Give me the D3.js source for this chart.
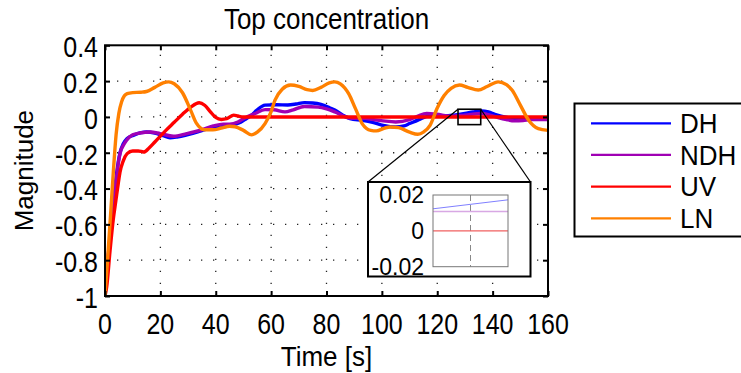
<!DOCTYPE html>
<html><head><meta charset="utf-8">
<script src="https://cdn.jsdelivr.net/npm/d3@7"></script>
<style>
body{margin:0;background:#fff;}
svg{display:block;font-family:"Liberation Sans",Arial,Helvetica,sans-serif;}
</style>
</head><body>
<svg id="chart" width="741" height="373"></svg>
<script>
// ---------------- data ----------------
const seriesNames  = ["DH", "NDH", "UV", "LN"];
const seriesColors = ["#0000ff", "#a000b4", "#ff0000", "#ff8000"];

const dhData = [[0,-1],[0.7,-0.85],[1.5,-0.72],[2.3,-0.58],[3.2,-0.46],[4,-0.34],[4.8,-0.25],[5.5,-0.195],[6.6,-0.15],[8,-0.12],
  [10.2,-0.103],[13,-0.088],[15,-0.084],[18,-0.09],[21,-0.105],[23.5,-0.116],[26,-0.112],[29,-0.103],[32,-0.09],[35,-0.076],
  [38,-0.063],[41,-0.055],[44,-0.052],[47,-0.042],[49,-0.03],[51,-0.01],[53,0.01],[55,0.04],[57.8,0.066],[62,0.068],
  [66,0.067],[69,0.072],[72,0.08],[75,0.078],[78,0.07],[81,0.052],[83,0.038],[86.7,0.003],[88.5,-0.009],[93,-0.019],
  [97,-0.032],[100.5,-0.047],[105,-0.056],[108,-0.05],[110,-0.037],[113,-0.018],[115,-0.004],[118.6,0.01],[122.8,0.006],[126,0.01],
  [130,0.019],[133,0.028],[136,0.034],[138.5,0.028],[140.8,0.015],[145.6,-0.004],[150.5,-0.015],[155,-0.01],[160,-0.01]];

const ndhData = [[0,-1],[0.7,-0.86],[1.5,-0.73],[2.3,-0.6],[3.2,-0.48],[4,-0.36],[4.8,-0.26],[5.5,-0.2],[6.6,-0.16],[7.8,-0.13],
  [10,-0.1],[12.6,-0.09],[16.3,-0.084],[19.9,-0.093],[24.7,-0.108],[29.5,-0.093],[34.3,-0.075],[39.1,-0.05],[42.7,-0.04],[45,-0.04],
  [48,-0.028],[50,-0.01],[54.2,0.019],[57.8,0.041],[61,0.04],[65,0.028],[68,0.04],[72,0.058],[77,0.055],[80,0.045],
  [83,0.028],[87.5,-0.003],[91,-0.008],[94,-0.008],[97,-0.015],[100.5,-0.022],[105,-0.028],[110,-0.015],[113,0.005],[116.2,0.019],
  [119.8,0.015],[124.6,0.004],[130,0.01],[136,0.019],[139,0.01],[142,-0.004],[145,-0.015],[148,-0.022],[151,-0.02],[154,-0.015],[160,-0.015]];

const uvData = [[0,-1],[0.6,-0.95],[1.8,-0.75],[3,-0.57],[3.9,-0.47],[4.8,-0.37],[5.4,-0.31],[6.6,-0.245],[8,-0.205],[10,-0.19],
  [12,-0.19],[14,-0.196],[16,-0.172],[18,-0.14],[22,-0.075],[25,-0.03],[28,0.015],[31,0.055],[34,0.079],[36,0.065],
  [38,0.03],[40,-0.003],[42,-0.014],[44,-0.01],[46.5,0.01],[48,0.005],[50,0],[160,0]];

const lnData = [[0,-1],[1,-0.78],[2,-0.55],[3,-0.31],[4,-0.1],[5,0.02],[6,0.085],[7,0.118],[8,0.13],[10,0.136],
  [13,0.138],[15,0.142],[18,0.165],[21,0.19],[23,0.196],[25,0.185],[28,0.135],[31,0.035],[33,-0.035],[36,-0.072],
  [39,-0.072],[42,-0.062],[45,-0.052],[47,-0.055],[50,-0.075],[53,-0.1],[55,-0.085],[57.8,-0.037],[60,0.03],[61.4,0.094],
  [64,0.155],[67,0.178],[70,0.17],[73,0.152],[75,0.148],[78,0.165],[81,0.19],[83,0.196],[85,0.185],[88,0.13],
  [90.5,0.045],[93,-0.04],[96,-0.075],[98,-0.078],[101,-0.062],[103,-0.056],[106,-0.06],[110,-0.085],[113,-0.097],[115,-0.085],
  [117.4,-0.047],[120,0.05],[122.5,0.12],[125,0.16],[128,0.178],[131,0.165],[134.8,0.15],[138,0.17],[142,0.196],[145,0.18],
  [147,0.15],[150,0.066],[153,-0.018],[156.5,-0.065],[160,-0.075]];

const xTicks = [0, 20, 40, 60, 80, 100, 120, 140, 160];
const xTickLabels = ["0","20","40","60","80","100","120","140","160"];
const yTicks = [-1, -0.8, -0.6, -0.4, -0.2, 0, 0.2, 0.4];
const yTickLabels = ["-1","-0.8","-0.6","-0.4","-0.2","0","0.2","0.4"];

// inset (zoom) data
const zoomXRange = [127.5, 135.7];
const zoomYRange = [-0.043, 0.043];
const insetYTicks = [-0.02, 0, 0.02];
const insetYTickLabels = ["-0.02", "0", "0.02"];
const insetDH  = [[127.5, 0.0123], [135.7, 0.0173]];
const insetNDH = [[127.5, 0.0108], [135.7, 0.0108]];
const insetUV  = [[127.5, 0], [135.7, 0]];

const titleText = "Top concentration";
const xLabel = "Time [s]";
const yLabel = "Magnitude";

// ---------------- layout ----------------
const svg = d3.select("#chart");
const L = 105, R = 548, T = 45.3, B = 296;
const x = d3.scaleLinear().domain([0, 160]).range([L, R]);
const y = d3.scaleLinear().domain([-1, 0.4]).range([B, T]);

function stext(g, px, py, str, size, sy, anchor, dy) {
  return g.append("text")
    .attr("transform", `translate(${px},${py}) scale(1,${sy})`)
    .attr("text-anchor", anchor)
    .attr("dy", dy)
    .attr("font-size", size)
    .attr("fill", "#000")
    .text(str);
}

// grid
const grid = svg.append("g");
grid.selectAll("line.gx").data(xTicks.slice(1, -1)).enter().append("line")
  .attr("x1", d => x(d)).attr("x2", d => x(d)).attr("y1", B).attr("y2", T)
  .attr("stroke", "#222").attr("stroke-width", 1.3).attr("stroke-dasharray", "1.3,10.7");
grid.selectAll("line.gy").data(yTicks.slice(1, -1)).enter().append("line")
  .attr("y1", d => y(d)).attr("y2", d => y(d)).attr("x1", L).attr("x2", R)
  .attr("stroke", "#222").attr("stroke-width", 1.3).attr("stroke-dasharray", "1.3,10.7");

// curves
svg.append("defs").append("clipPath").attr("id", "clip")
  .append("rect").attr("x", L).attr("y", T).attr("width", R - L).attr("height", B - T);
const line = d3.line().x(d => x(d[0])).y(d => y(d[1])).curve(d3.curveMonotoneX);
const allData = [dhData, ndhData, uvData, lnData];
const curves = svg.append("g").attr("clip-path", "url(#clip)");
allData.forEach((data, i) => {
  curves.append("path").attr("d", line(data)).attr("fill", "none")
    .attr("stroke", seriesColors[i]).attr("stroke-width", 3.4)
    .attr("stroke-linejoin", "round").attr("stroke-linecap", "round");
});

// axes ticks (inward)
const tick = 5;
svg.append("g").attr("transform", `translate(0,${B})`)
  .call(d3.axisBottom(x).tickValues(xTicks).tickSize(-tick).tickFormat(""))
  .call(g => g.select(".domain").remove());
svg.append("g").attr("transform", `translate(0,${T})`)
  .call(d3.axisTop(x).tickValues(xTicks).tickSize(-tick).tickFormat(""))
  .call(g => g.select(".domain").remove());
svg.append("g").attr("transform", `translate(${L},0)`)
  .call(d3.axisLeft(y).tickValues(yTicks).tickSize(-tick).tickFormat(""))
  .call(g => g.select(".domain").remove());
svg.append("g").attr("transform", `translate(${R},0)`)
  .call(d3.axisRight(y).tickValues(yTicks).tickSize(-tick).tickFormat(""))
  .call(g => g.select(".domain").remove());
svg.selectAll(".tick line").attr("stroke", "#000").attr("stroke-width", 2);

// box
svg.append("rect").attr("x", L).attr("y", T).attr("width", R - L).attr("height", B - T)
  .attr("fill", "none").attr("stroke", "#000").attr("stroke-width", 2);

// tick labels
const labels = svg.append("g");
xTicks.forEach((v, i) => stext(labels, x(v), 334, xTickLabels[i], 25, 1.2, "middle", 0));
yTicks.forEach((v, i) => stext(labels, 98, y(v) + 1, yTickLabels[i], 25, 1.2, "end", "0.36em"));

// title & axis labels
stext(svg, (L + R) / 2, 29, titleText, 26, 1.1, "middle", 0);
stext(svg, (L + R) / 2, 366, xLabel, 26, 1.04, "middle", 0);
svg.append("text").attr("transform", `translate(33,${(T + B) / 2}) rotate(-90)`)
  .attr("text-anchor", "middle").attr("font-size", 26).text(yLabel);

// zoom rectangle and connectors
const zx0 = x(zoomXRange[0]), zx1 = x(zoomXRange[1]);
const zy0 = y(zoomYRange[1]), zy1 = y(zoomYRange[0]);
const IB = {x0: 368, y0: 182, x1: 530.5, y1: 276.5};
svg.append("rect").attr("x", zx0).attr("y", zy0).attr("width", zx1 - zx0).attr("height", zy1 - zy0)
  .attr("fill", "none").attr("stroke", "#000").attr("stroke-width", 1.6);
svg.append("line").attr("x1", zx0).attr("y1", zy0).attr("x2", IB.x0).attr("y2", IB.y0)
  .attr("stroke", "#000").attr("stroke-width", 1.2);
svg.append("line").attr("x1", zx1).attr("y1", zy0).attr("x2", IB.x1).attr("y2", IB.y0)
  .attr("stroke", "#000").attr("stroke-width", 1.2);

// inset
const inset = svg.append("g");
inset.append("rect").attr("x", IB.x0).attr("y", IB.y0).attr("width", IB.x1 - IB.x0).attr("height", IB.y1 - IB.y0)
  .attr("fill", "#fff").attr("stroke", "#000").attr("stroke-width", 2);
const ix = d3.scaleLinear().domain(zoomXRange).range([433, 508]);
const iy = d3.scaleLinear().domain([-0.02, 0.02]).range([266.7, 195]);
inset.append("line").attr("x1", (433 + 508) / 2).attr("x2", (433 + 508) / 2).attr("y1", 195).attr("y2", 266.7)
  .attr("stroke", "#888").attr("stroke-width", 1).attr("stroke-dasharray", "6,4");
const iline = d3.line().x(d => ix(d[0])).y(d => iy(d[1]));
[[insetDH, "#8080ff", 1], [insetNDH, "#d8a8e4", 1.6], [insetUV, "#f06060", 1.4]].forEach(([d, c, w]) => {
  inset.append("path").attr("d", iline(d)).attr("fill", "none").attr("stroke", c).attr("stroke-width", w);
});
inset.append("rect").attr("x", 433).attr("y", 195).attr("width", 75).attr("height", 71.7)
  .attr("fill", "none").attr("stroke", "#777").attr("stroke-width", 1);
insetYTicks.forEach((v, i) => stext(inset, 424, iy(v), insetYTickLabels[i], 23, 1.0, "end", "0.36em"));

// legend
const leg = svg.append("g");
leg.append("rect").attr("x", 574.5).attr("y", 103.5).attr("width", 200).attr("height", 133)
  .attr("fill", "#fff").attr("stroke", "#000").attr("stroke-width", 2);
const legY = d3.scalePoint().domain(seriesNames).range([123.3, 218.3]);
seriesNames.forEach((n, i) => {
  leg.append("line").attr("x1", 591).attr("x2", 671).attr("y1", legY(n)).attr("y2", legY(n))
    .attr("stroke", seriesColors[i]).attr("stroke-width", 2.2);
  stext(leg, 680, legY(n), n, 26, 1.05, "start", "0.36em");
});
</script>
</body></html>
